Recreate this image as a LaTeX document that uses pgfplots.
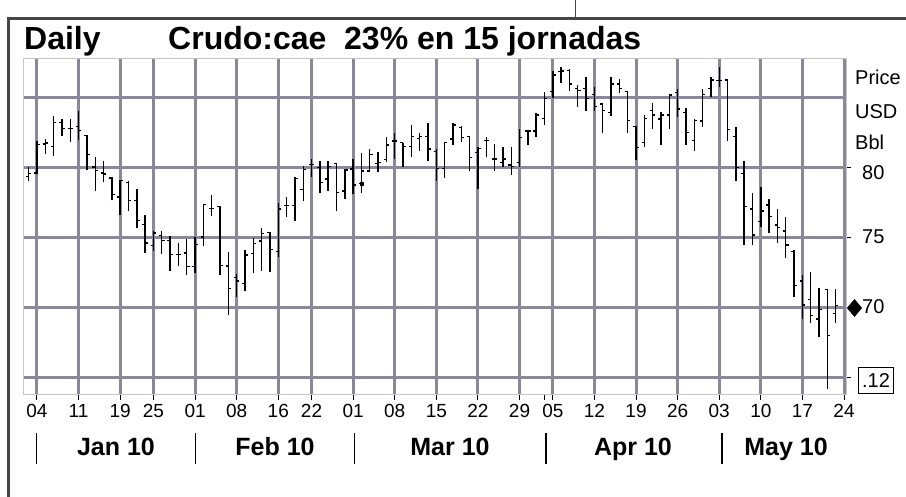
\documentclass[border=0pt]{standalone}
\usepackage{pgfplots}
\usepackage{pgfplotstable}
\pgfplotsset{compat=1.18}
\usepackage{fontspec}
\setmainfont{Liberation Sans}
\definecolor{gridc}{RGB}{138,136,153}
\definecolor{framec}{RGB}{70,70,70}
\pgfplotstableread{
i o h l c
-1 79.40 80.07 79.05 79.60
0 79.64 81.95 79.57 81.67
1 81.71 82.07 81.00 81.79
2 81.55 83.69 80.83 83.26
3 83.26 83.50 82.26 82.80
4 82.80 83.50 81.83 82.80
5 82.98 84.10 81.98 82.69
6 82.31 82.38 79.83 80.95
7 80.07 80.76 78.38 79.81
8 79.64 80.52 78.98 79.57
9 79.29 79.36 77.69 78.10
10 77.93 79.17 76.67 79.12
11 78.98 79.10 76.95 77.69
12 77.69 78.50 75.71 76.24
13 75.95 76.67 73.93 74.64
14 74.45 75.48 74.10 75.36
15 75.17 75.48 73.86 74.81
16 74.81 75.17 72.62 73.81
17 73.81 74.64 72.98 73.81
18 73.93 74.93 72.38 72.98
19 72.98 75.05 72.50 74.52
20 75.07 77.45 74.40 77.38
21 77.10 78.05 76.55 77.10
22 77.26 77.26 72.38 73.05
23 73.00 74.00 69.50 71.40
24 72.19 72.43 70.81 71.93
25 71.76 74.14 71.21 73.79
26 73.90 75.02 72.48 74.62
27 74.79 75.74 72.67 75.33
28 75.38 75.40 72.60 74.19
29 74.02 77.48 73.62 77.07
30 77.31 77.90 76.52 77.31
31 77.31 79.33 76.24 79.26
32 78.48 80.17 77.67 79.90
33 80.26 80.62 79.38 80.26
34 80.05 80.50 78.24 78.95
35 79.21 80.50 78.36 80.10
36 80.33 80.38 76.93 78.26
37 78.36 79.90 77.76 79.86
38 79.93 80.62 78.12 78.79
39 78.90 81.05 78.24 79.79
40 79.79 81.33 79.69 80.98
41 80.33 81.17 79.69 80.40
42 80.62 82.19 80.45 81.64
43 81.93 82.48 80.64 81.93
44 81.81 81.81 80.10 81.52
45 81.52 83.07 80.81 82.24
46 82.12 82.48 81.24 82.24
47 82.24 83.19 80.52 81.36
48 81.20 81.33 79.10 79.98
49 79.98 81.88 79.26 81.81
50 82.07 83.24 81.64 83.07
51 82.90 83.00 81.88 82.19
52 82.24 82.24 79.81 80.76
53 81.10 81.48 78.48 81.40
54 81.95 82.24 80.81 81.95
55 80.64 81.71 79.81 80.64
56 80.38 81.48 80.05 80.64
57 80.21 81.48 79.50 80.10
58 80.38 82.76 80.10 82.19
59 82.64 82.71 81.64 82.64
60 82.64 83.90 82.24 83.79
61 83.55 85.45 83.07 84.98
62 85.45 86.93 84.98 86.64
63 86.88 87.19 86.10 86.93
64 86.95 87.05 85.52 86.00
65 85.69 85.93 84.38 85.52
66 85.69 86.48 84.10 84.98
67 85.26 85.81 84.10 84.38
68 84.57 84.62 82.52 84.10
69 83.95 86.48 83.71 86.00
70 86.00 86.33 85.33 85.69
71 85.45 85.45 82.52 83.38
72 82.95 83.02 80.57 81.48
73 81.81 83.79 81.52 83.55
74 84.10 84.67 82.76 83.79
75 83.50 84.02 81.64 83.79
76 83.79 85.26 82.79 85.21
77 85.38 85.62 83.67 84.21
78 83.95 84.31 81.64 82.52
79 81.95 83.48 81.21 83.38
80 83.36 85.62 82.95 85.26
81 85.69 86.48 85.10 86.29
82 86.24 87.24 85.81 86.24
83 86.29 86.33 81.95 82.76
84 82.24 82.95 79.10 80.05
85 79.62 80.50 74.50 77.24
86 77.07 78.24 74.50 75.21
87 76.17 78.67 75.81 76.93
88 77.36 77.76 75.33 76.52
89 75.93 77.07 74.62 75.74
90 75.50 76.52 73.60 74.50
91 74.02 74.14 70.76 71.62
92 71.93 72.36 69.19 70.21
93 70.62 72.60 68.90 69.48
94 69.21 71.45 67.90 69.90
95 71.33 71.33 64.19 68.05
96 69.62 71.33 68.90 70.19
}\ohlc
\begin{document}
\begin{tikzpicture}[x=1pt,y=1pt]
\useasboundingbox (0,0) rectangle (906,497);
\fill[white] (0,0) rectangle (906,497);
\begin{axis}[
  at={(24pt,102pt)}, anchor=south west,
  scale only axis, width=822pt, height=336pt,
  xmin=-1.5625, xmax=97.24, ymin=63.786, ymax=87.786,
  clip=false,
  axis line style={gray!45, line width=1pt},
  grid=major,
  major grid style={gridc, line width=3pt},
  tick align=outside,
  major tick length=5pt,
  tick style={black, line width=1pt},
  xtick pos=bottom, ytick pos=right,
  xtick={0,5,10,14,19,24,29,33,38,43,48,53,58,62,67,72,77,82,87,92,97},
  xticklabels={04,11,19,25,01,08,16,22,01,08,15,22,29,05,12,19,26,03,10,17,24},
  extra x ticks={61}, extra x tick labels={}, extra x tick style={grid=none},
  xticklabel style={font=\fontsize{19}{19}\selectfont, yshift=-1pt},
  ytick={65,75,80}, yticklabels={},
  extra y ticks={70,85}, extra y tick labels={}, extra y tick style={major tick length=0pt},
]
\addplot[black, line width=1.4pt, no markers, quiver={u=0, v=\thisrow{h}-\thisrow{l}}] table[x=i, y=l] {\ohlc};
\addplot[black, line width=1.2pt, no markers, quiver={u=0.33, v=0}] table[x expr=\thisrow{i}-0.33, y=o] {\ohlc};
\addplot[black, line width=1.2pt, no markers, quiver={u=0.33, v=0}] table[x=i, y=c] {\ohlc};
\addplot[only marks, black, mark=square*, mark size=1.6pt] coordinates {(39,78.9)};
\addplot[only marks, black, mark=diamond*, mark size=8.5pt, mark options={xscale=1.15}] coordinates {(98.26,70)};
\end{axis}
% frame
\draw[framec, line width=3pt] (8.5,0) -- (8.5,478) -- (906,478);
\draw[framec, line width=1pt] (575,478) -- (575,497);
% title
\node[anchor=base west, inner sep=0pt, font=\fontsize{32}{32}\selectfont\bfseries] at (24,447) {Daily};
\node[anchor=base west, inner sep=0pt, font=\fontsize{32}{32}\selectfont\bfseries] at (168,447) {Crudo:cae\ \ 23\% en 15 jornadas};
% right labels
\begin{scope}[every node/.style={anchor=base west, inner sep=0pt, font=\fontsize{20}{20}\selectfont}]
\node at (855,412) {Price};
\node at (855,378) {USD};
\node at (855,347) {Bbl};
\node at (862,317) {80};
\node at (862,253) {75};
\node at (862,183) {70};
\end{scope}
\draw[black, line width=1pt] (858,103) rectangle (893,129);
\node[anchor=base, inner sep=0pt, font=\fontsize{20}{20}\selectfont] at (876,109) {.12};
% month separators and labels
\foreach \xx in {36.6,195.7,354.3,546,722} \draw[black, line width=1.5pt] (\xx,33) -- (\xx,64);
\begin{scope}[every node/.style={anchor=base, inner sep=0pt, font=\fontsize{25}{25}\selectfont\bfseries}]
\node at (116,41) {Jan 10};
\node at (275,41) {Feb 10};
\node at (450,41) {Mar 10};
\node at (633,41) {Apr 10};
\node at (786,41) {May 10};
\end{scope}
\end{tikzpicture}
\end{document}
